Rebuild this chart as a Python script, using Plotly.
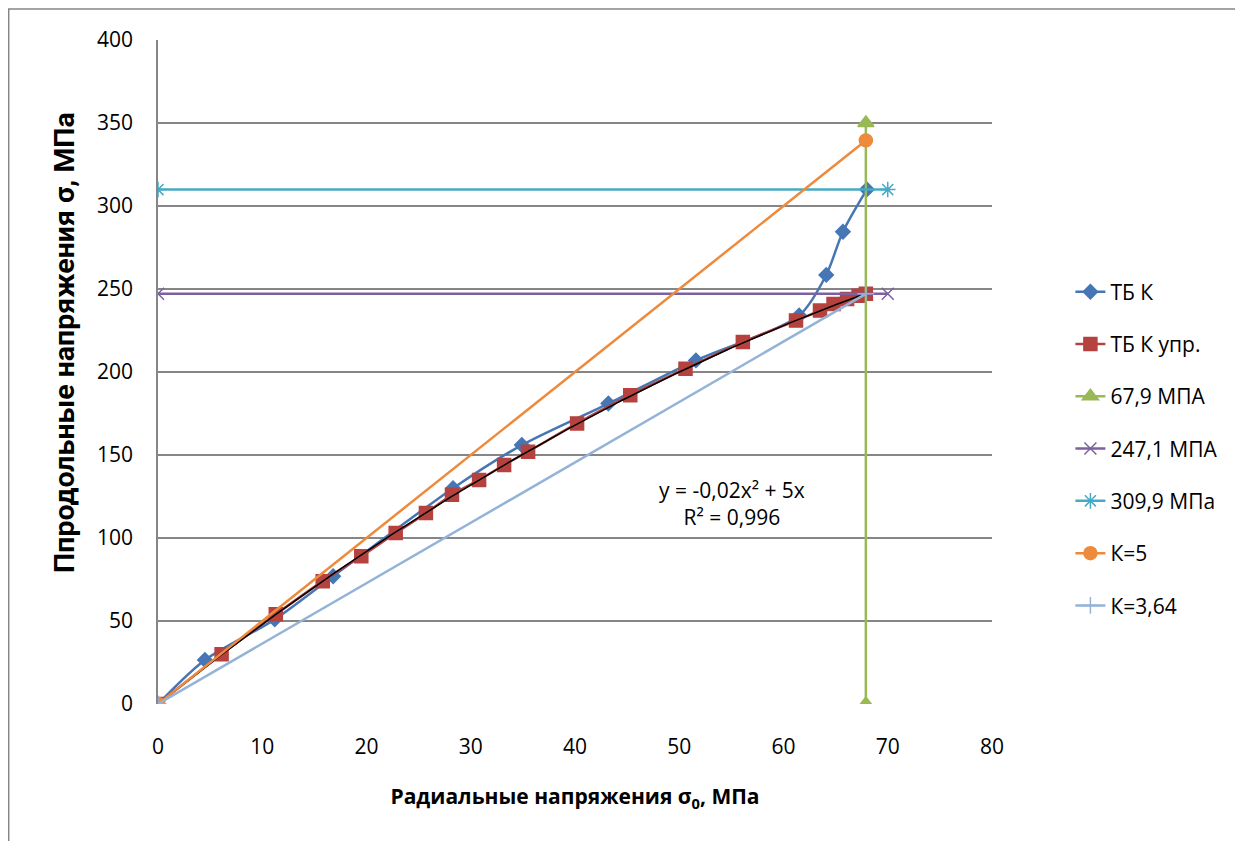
import plotly.graph_objects as go

# ТБ К
tbk_x = [0, 4.5, 11.2, 16.8, 28.3, 34.9, 43.2, 51.6, 61.5, 64.1, 65.7, 68.0]
tbk_y = [0, 26.5, 51, 77, 130, 156, 181, 207, 234, 258.5, 284.5, 310]
# ТБ К упр.
tbku_x = [0, 6.1, 11.3, 15.8, 19.5, 22.8, 25.7, 28.2, 30.8, 33.2, 35.5, 40.2, 45.3, 50.6,
          56.1, 61.2, 63.5, 64.8, 66.1, 67.2, 67.9]
tbku_y = [0, 30, 54, 74, 89, 103, 115, 126, 135, 144, 152, 169, 186, 202,
          218, 231, 237, 241, 244, 246, 247.1]
# trendline coefficients (y = a x^2 + b x), from the chart's equation label
trend_a = -0.02
trend_b = 5.0
trend_xmax = 67.9

# reference lines
v_x = [67.9, 67.9]
v_y = [0, 350]
h247_x = [0, 70]
h247_y = [247.1, 247.1]
h309_x = [0, 70]
h309_y = [309.9, 309.9]
k5_x = [0, 67.9]
k5_y = [0, 339.5]
k364_x = [0, 67.9]
k364_y = [0, 247.1]

FONT = "Open Sans"
fig = go.Figure()

def add(x, y, name, color, symbol, msize, width=2.5, shape="linear"):
    fig.add_trace(go.Scatter(
        x=x, y=y, name=name, mode="lines+markers",
        line=dict(color=color, width=width, shape=shape, smoothing=0.8),
        marker=dict(symbol=symbol, size=msize, color=color,
                    line=dict(color=color, width=1.5)),
        legendgroup=name))

add(tbk_x, tbk_y, "ТБ К", "#4676B4", "diamond", 11, shape="spline")
add(tbku_x, tbku_y, "ТБ К упр.", "#B5423F", "square", 13, shape="spline")
n = 200
trend_x = [trend_xmax * i / n for i in range(n + 1)]
fig.add_trace(go.Scatter(
    x=trend_x, y=[trend_a * v * v + trend_b * v for v in trend_x],
    mode="lines", line=dict(color="black", width=1.5), showlegend=False,
    hoverinfo="skip"))
add(v_x, v_y, "67,9 МПА", "#98B954", "triangle-up", 14)
add(h247_x, h247_y, "247,1 МПА", "#7D60A0", "x-thin", 12)
add(h309_x, h309_y, "309,9 МПа", "#46AAC5", "asterisk", 13)
add(k5_x, k5_y, "К=5", "#EE8A3C", "circle", 13)
add(k364_x, k364_y, "К=3,64", "#95B3D7", "cross-thin", 12)

fig.add_annotation(x=55.1, y=121, xref="x", yref="y", showarrow=False,
                   text="y = -0,02x² + 5x<br>R² = 0,996", align="center",
                   font=dict(family=FONT, size=21, color="black"))

# y-axis title (placed as rotated text, as in the reference it sits above centre)
fig.add_annotation(x=-0.113, y=0.545, xref="paper", yref="paper", showarrow=False,
                   textangle=-90, xanchor="center", yanchor="middle",
                   text="<b>Ппродольные напряжения σ, МПа</b>",
                   font=dict(family="Liberation Sans Narrow, Roboto", size=28.5,
                             color="black"))

# outer chart border
fig.add_shape(type="rect", xref="paper", yref="paper",
              x0=-0.179, y0=-0.35, x1=1.4, y1=1.0467,
              line=dict(color="#868686", width=1.5), fillcolor="rgba(0,0,0,0)",
              layer="below")

fig.update_layout(
    width=1235, height=833,
    margin=dict(l=150, r=251, t=32, b=137),
    paper_bgcolor="white", plot_bgcolor="white",
    font=dict(family=FONT, size=21, color="black"),
    legend=dict(x=1.094, y=0.384, xanchor="left", yanchor="middle",
                tracegroupgap=22, font=dict(family=FONT, size=21)),
    showlegend=True,
)
fig.update_xaxes(range=[0, 80], dtick=10, showgrid=False, zeroline=False,
                 showline=False, ticks="", ticklabelstandoff=28,
                 tickfont=dict(family=FONT, size=21),
                 title=dict(text="<b>Радиальные напряжения σ<sub>0</sub>, МПа</b>",
                            font=dict(family=FONT, size=21), standoff=30))
fig.update_yaxes(range=[0, 400], dtick=50, showgrid=True, gridcolor="#868686",
                 gridwidth=1.5, zeroline=False, showline=True, linecolor="#868686",
                 linewidth=1.5, ticks="", ticklabelstandoff=19,
                 tickfont=dict(family=FONT, size=21))

fig.write_html("out.html")
